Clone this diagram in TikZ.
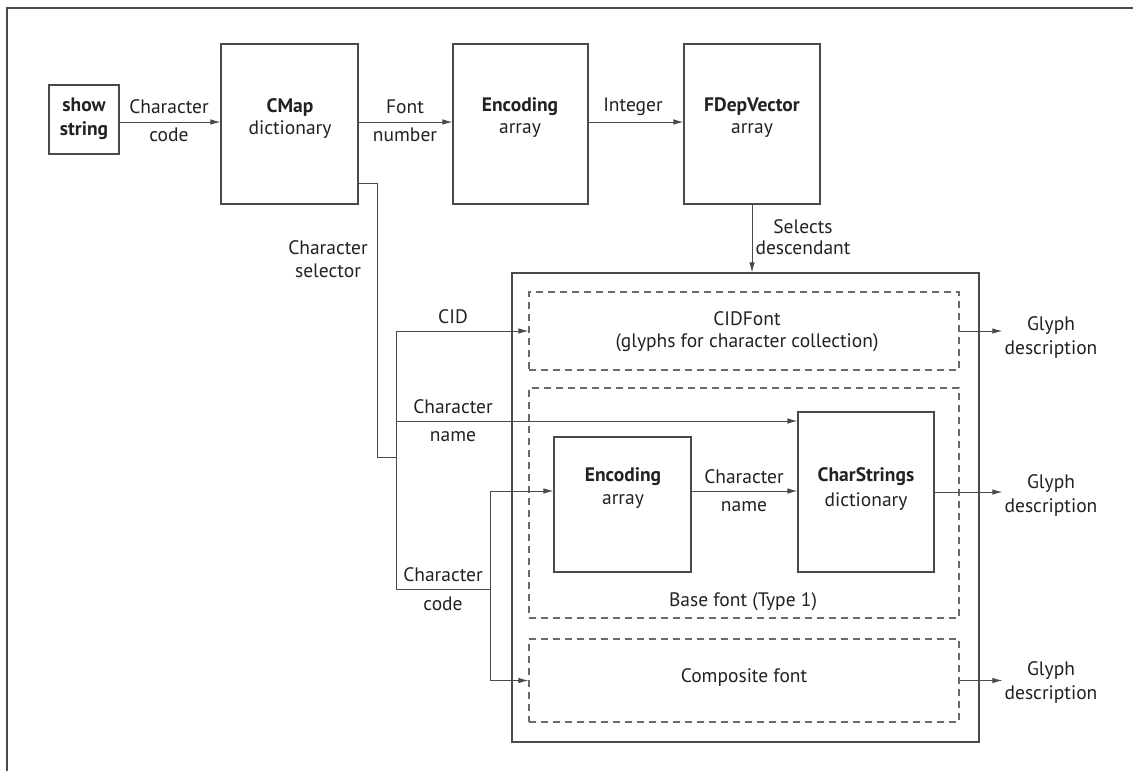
\documentclass[tikz,border=0pt]{standalone}
\usepackage{fontspec}
\setmainfont{PT Sans}
\usetikzlibrary{arrows.meta}
\definecolor{ln}{HTML}{4A4A4A}
\definecolor{dl}{HTML}{6A6A6A}
\definecolor{tx}{HTML}{222222}
\begin{document}
\begin{tikzpicture}[x=1pt,y=-1pt,
  box/.style={draw=ln, line width=1.1pt, inner sep=0pt},
  dbox/.style={draw=dl, line width=1.1pt, dash pattern=on 7pt off 5pt, inner sep=0pt},
  wire/.style={draw=ln, line width=1pt},
  arr/.style={wire, -{Latex[length=10pt,width=5.5pt]}},
  lab/.style={text=tx, font=\fontsize{19.5}{24}\selectfont, inner sep=0pt, align=center},
  blab/.style={lab, font=\fontsize{19.5}{24}\selectfont\bfseries},
]
\fill[white] (0,0) rectangle (1133,771);
\useasboundingbox (0,0) rectangle (1133,771);
\draw[ln, line width=1.5pt] (7,771) -- (7,8) -- (1133,8);

% top row boxes
\node[box, minimum width=70pt, minimum height=69pt] (show) at (84,119.5) {};
\node[box, minimum width=137pt, minimum height=160pt] (cmap) at (289.5,124) {};
\node[box, minimum width=135pt, minimum height=160pt] (enc1) at (520.5,124) {};
\node[box, minimum width=136pt, minimum height=160pt] (fdep) at (752,124) {};

% big container and dashed regions
\node[box, minimum width=467pt, minimum height=469pt] (big) at (745.5,507.5) {};
\node[dbox, minimum width=430pt, minimum height=78pt] (cidf) at (744,331) {};
\node[dbox, minimum width=430pt, minimum height=230pt] (base) at (744,503) {};
\node[dbox, minimum width=430pt, minimum height=83pt] (comp) at (744,680.5) {};
\node[box, minimum width=137pt, minimum height=135pt] (enc2) at (622.5,504.5) {};
\node[box, minimum width=136pt, minimum height=160pt] (cstr) at (866,492) {};

% box texts
\node[blab] (tshow) at (84,118.5) {show\\string};
\node[blab] (tcmap) at (290,107) {CMap};
\node[lab] (tcmap2) at (290,130) {dictionary};
\node[blab] (tenc1) at (520,107) {Encoding};
\node[lab] (tenc1b) at (520,131) {array};
\node[blab] (tfdep) at (752,107) {FDepVector};
\node[lab] (tfdepb) at (752,131) {array};
\node[lab] (tcidf) at (747,319) {CIDFont};
\node[lab] (tcidf2) at (747,343) {(glyphs for character collection)};
\node[blab] (tenc2) at (623,477) {Encoding};
\node[lab] (tenc2b) at (623,502) {array};
\node[blab] (tcstr) at (866,477) {CharStrings};
\node[lab] (tcstrb) at (866,502) {dictionary};
\node[lab] (tbase) at (743,602) {Base font (Type 1)};
\node[lab] (tcomp) at (744,678) {Composite font};

% connector labels
\node[lab] (lc1) at (169,107) {Character};
\node[lab] (lc2) at (169,135) {code};
\node[lab] (lf1) at (405,107) {Font};
\node[lab] (lf2) at (405,135) {number};
\node[lab] (lint) at (633,107) {Integer};
\node[lab] (lsel1) at (803,227) {Selects};
\node[lab] (lsel2) at (803,248) {descendant};
\node[lab] (lcs1) at (328,248) {Character};
\node[lab] (lcs2) at (328,271) {selector};
\node[lab] (lcid) at (453,317) {CID};
\node[lab] (lcn1) at (453,407) {Character};
\node[lab] (lcn2) at (453,437) {name};
\node[lab] (lmn1) at (744,477) {Character};
\node[lab] (lmn2) at (744,507) {name};
\node[lab] (lcc1) at (443,575) {Character};
\node[lab] (lcc2) at (443,604) {code};
\node[lab, align=center] (g1) at (1051,337.5) {Glyph\\description};
\node[lab, align=center] (g2) at (1051,495.5) {Glyph\\description};
\node[lab, align=center] (g3) at (1051,682.5) {Glyph\\description};

% coordinates
\coordinate (r1) at (0,122);
\coordinate (s1) at (377,183);
\coordinate (s2) at (377,457);
\coordinate (t0) at (396,457);
\coordinate (t1) at (396,589);
\coordinate (u0) at (490,589);
\coordinate (yn) at (0,421);
\coordinate (ye) at (0,491);

% connectors
\draw[arr] (show.east |- r1) -- (cmap.west |- r1);
\draw[arr] (cmap.east |- r1) -- (enc1.west |- r1);
\draw[arr] (enc1.east |- r1) -- (fdep.west |- r1);
\draw[arr] (fdep.south) -- (fdep.south |- big.north);
\draw[wire] (cmap.east |- s1) -- (s1) -- (s2) -- (t0);
\draw[arr] (t0) |- (cidf.west);
\draw[arr] (t0) |- (cstr.west |- yn);
\draw[wire] (t0) -- (t1) -- (u0);
\draw[arr] (u0) |- (enc2.west |- ye);
\draw[arr] (u0) |- (comp.west);
\draw[arr] (enc2.east |- ye) -- (cstr.west |- ye);
\draw[arr] (cidf.east) -- ([xshift=-2pt]g1.west |- cidf.east);
\draw[arr] (cstr.east) -- ([xshift=-2pt]g2.west |- cstr.east);
\draw[arr] (comp.east) -- ([xshift=-2pt]g3.west |- comp.east);
\end{tikzpicture}
\end{document}
